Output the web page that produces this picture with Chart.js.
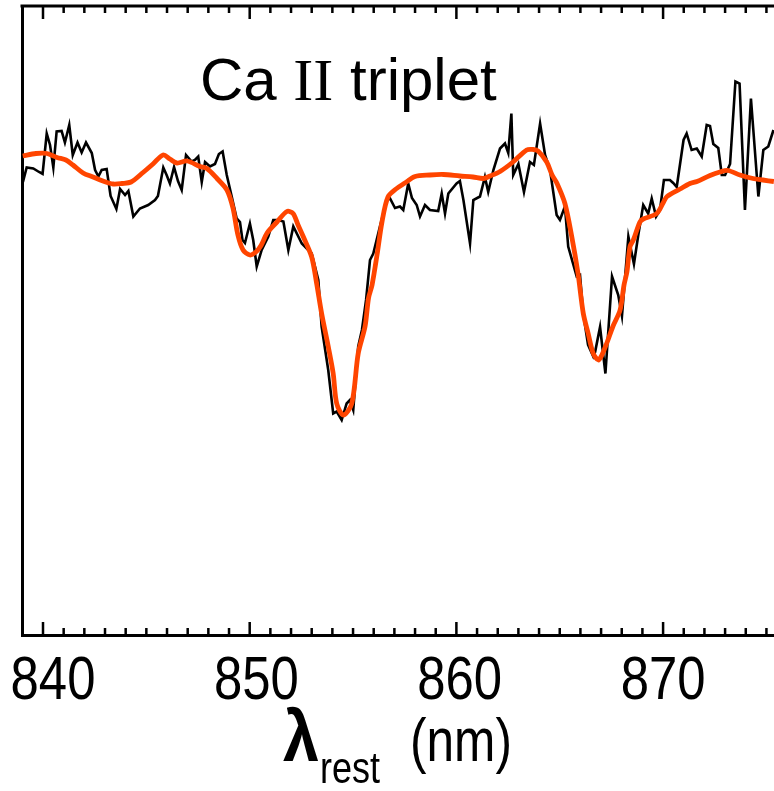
<!DOCTYPE html>
<html>
<head>
<meta charset="utf-8">
<script src="https://cdn.jsdelivr.net/npm/chart.js@4"></script>
<style>
  html, body { margin: 0; padding: 0; background: #fff; }
  #wrap { width: 774px; height: 791px; }
</style>
</head>
<body>
<div id="wrap"><canvas id="myChart" width="774" height="791"></canvas></div>
<script>
/* Ca II triplet: observed spectrum (black) and model (red) */

// observed spectrum, rest wavelength (nm) and normalised flux
const obsWave = [
  839.03, 839.21, 839.53, 839.81, 839.98, 840.18, 840.34, 840.50, 840.66, 840.90,
  841.06, 841.27, 841.44, 841.67, 841.87, 842.08, 842.36, 842.52, 842.68, 842.84,
  843.08, 843.27, 843.55, 843.73, 843.97, 844.13, 844.37, 844.69, 845.09, 845.42,
  845.56, 845.82, 845.98, 846.14, 846.34, 846.53, 846.71, 846.92, 847.19, 847.35,
  847.51, 847.68, 847.84, 848.08, 848.32, 848.51, 848.69, 848.89, 849.13, 849.37,
  849.53, 849.65, 849.77, 850.01, 850.17, 850.34, 850.58, 850.90, 851.14, 851.38,
  851.63, 851.87, 852.11, 852.52, 853.00, 853.32, 853.48, 853.80, 854.04, 854.21,
  854.45, 854.69, 854.85, 855.01, 855.25, 855.43, 855.63, 855.82, 855.98, 856.30,
  856.63, 856.79, 857.03, 857.27, 857.43, 857.67, 857.85, 858.08, 858.24, 858.48,
  858.72, 859.12, 859.29, 859.45, 859.61, 860.01, 860.17, 860.34, 860.66, 860.82,
  861.14, 861.38, 861.54, 861.79, 862.11, 862.35, 862.51, 862.66, 862.75, 863.00,
  863.27, 863.56, 863.75, 864.05, 864.29, 864.53, 864.85, 865.01, 865.25, 865.41,
  865.82, 865.98, 866.14, 866.37, 866.62, 866.71, 866.95, 867.21, 867.53, 867.83,
  868.01, 868.32, 868.59, 868.80, 869.04, 869.28, 869.45, 869.66, 869.85, 870.04,
  870.33, 870.49, 870.66, 870.99, 871.14, 871.38, 871.63, 871.87, 872.11, 872.27,
  872.43, 872.67, 872.84, 873.00, 873.24, 873.50, 873.70, 873.96, 874.25, 874.61,
  874.85, 875.09, 875.34
];
const obsFlux = [
  0.906, 0.935, 0.933, 0.926, 0.922, 1.003, 0.980, 0.935, 1.007, 1.008,
  0.985, 1.020, 0.960, 0.985, 0.965, 0.985, 0.964, 0.930, 0.917, 0.930,
  0.932, 0.878, 0.852, 0.892, 0.880, 0.888, 0.837, 0.853, 0.860, 0.870,
  0.878, 0.935, 0.920, 0.903, 0.936, 0.908, 0.890, 0.960, 0.947, 0.950,
  0.957, 0.906, 0.946, 0.937, 0.942, 0.962, 0.967, 0.920, 0.877, 0.833,
  0.826, 0.790, 0.784, 0.823, 0.790, 0.737, 0.770, 0.797, 0.830, 0.830,
  0.827, 0.770, 0.817, 0.783, 0.763, 0.710, 0.617, 0.530, 0.443, 0.447,
  0.430, 0.463, 0.470, 0.450, 0.577, 0.610, 0.670, 0.750, 0.763, 0.817,
  0.870, 0.873, 0.854, 0.857, 0.850, 0.903, 0.874, 0.860, 0.837, 0.860,
  0.850, 0.848, 0.883, 0.843, 0.883, 0.903, 0.908, 0.870, 0.783, 0.870,
  0.877, 0.916, 0.886, 0.930, 0.973, 0.983, 0.964, 1.043, 0.920, 0.942,
  0.886, 0.946, 0.940, 1.023, 0.960, 0.930, 0.840, 0.830, 0.857, 0.777,
  0.717, 0.720, 0.642, 0.580, 0.557, 0.566, 0.616, 0.523, 0.717, 0.680,
  0.638, 0.797, 0.742, 0.800, 0.860, 0.843, 0.873, 0.837, 0.850, 0.910,
  0.910, 0.904, 0.896, 0.990, 1.003, 0.970, 0.973, 0.957, 1.020, 1.018,
  0.982, 0.974, 0.920, 0.920, 0.942, 1.107, 1.103, 0.850, 1.073, 0.877,
  0.970, 0.977, 1.010
];

// model fit
const modelWave = [
  839.02, 839.66, 840.19, 840.68, 841.11, 841.45, 841.94, 842.42, 842.90, 843.39,
  843.82, 844.26, 844.84, 845.32, 845.81, 846.14, 846.48, 846.97, 847.60, 847.93,
  848.42, 848.90, 849.19, 849.43, 849.68, 850.01, 850.30, 850.55, 850.84, 851.32,
  851.80, 852.10, 852.34, 852.60, 853.00, 853.24, 853.48, 853.80, 854.04, 854.21,
  854.53, 854.94, 855.25, 855.58, 855.75, 855.92, 856.16, 856.40, 856.69, 857.11,
  857.51, 858.00, 858.72, 859.37, 860.17, 860.80, 861.31, 861.63, 862.11, 862.74,
  863.40, 863.71, 863.95, 864.37, 864.63, 864.87, 865.25, 865.58, 865.88, 866.14,
  866.37, 866.62, 866.87, 867.04, 867.27, 867.58, 867.92, 868.11, 868.25, 868.40,
  868.56, 868.88, 869.04, 869.69, 870.00, 870.19, 870.82, 871.30, 871.64, 872.27,
  872.75, 873.14, 873.72, 874.35, 874.83, 875.36
];
const modelFlux = [
  0.958, 0.963, 0.963, 0.955, 0.950, 0.940, 0.924, 0.916, 0.908, 0.902,
  0.903, 0.906, 0.925, 0.942, 0.960, 0.952, 0.944, 0.948, 0.937, 0.933,
  0.913, 0.890, 0.854, 0.800, 0.770, 0.760, 0.766, 0.779, 0.804, 0.826,
  0.847, 0.843, 0.820, 0.796, 0.756, 0.703, 0.643, 0.577, 0.523, 0.463,
  0.440, 0.463, 0.563, 0.617, 0.674, 0.700, 0.760, 0.826, 0.876, 0.893,
  0.904, 0.917, 0.920, 0.921, 0.918, 0.916, 0.913, 0.918, 0.927, 0.946,
  0.970, 0.971, 0.968, 0.946, 0.920, 0.903, 0.863, 0.797, 0.724, 0.643,
  0.604, 0.563, 0.550, 0.560, 0.583, 0.618, 0.650, 0.700, 0.726, 0.777,
  0.790, 0.826, 0.832, 0.843, 0.864, 0.877, 0.892, 0.903, 0.907, 0.919,
  0.926, 0.929, 0.920, 0.913, 0.910, 0.907
];

const xMin = 838.984;
const xMax = 875.366;
const xTicks = [840, 850, 860, 870];

const sans = '"Liberation Sans", Arial, sans-serif';
const squeeze = 0.82; // the figure uses a narrow face

function toPoints(xs, ys) {
  return xs.map(function (x, i) { return { x: x, y: ys[i] }; });
}

// narrow text: draw Liberation Sans squeezed horizontally
function narrowText(ctx, text, x, y, size, align, weight, sq) {
  const k = sq || squeeze;
  ctx.save();
  ctx.font = (weight || 'normal') + ' ' + size + 'px ' + sans;
  ctx.textAlign = align;
  ctx.translate(x, y);
  ctx.scale(k, 1);
  ctx.fillText(text, 0, 0);
  const w = ctx.measureText(text).width * k;
  ctx.restore();
  return w;
}

/* frame top line + inward ticks, tick labels, title and axis label */
const framePlugin = {
  id: 'frame',
  afterDraw: function (chart) {
    const ctx = chart.ctx;
    const area = chart.chartArea;
    const xs = chart.scales.x;

    ctx.save();
    ctx.strokeStyle = '#000';
    ctx.fillStyle = '#000';
    ctx.lineWidth = 3;
    ctx.beginPath();
    ctx.moveTo(area.left - 1.5, area.top);
    ctx.lineTo(area.right + 2, area.top);
    ctx.stroke();

    ctx.lineWidth = 2.5;
    for (let v = Math.ceil(xMin); v <= Math.floor(xMax); v++) {
      const px = xs.getPixelForValue(v);
      const len = (v % 10 === 0) ? 13 : 7;
      ctx.beginPath();
      ctx.moveTo(px, area.bottom);
      ctx.lineTo(px, area.bottom - len);
      ctx.moveTo(px, area.top);
      ctx.lineTo(px, area.top + len);
      ctx.stroke();
    }

    // tick labels from the scale's own ticks (set a little right of the
    // tick at the low end, as in the figure)
    ctx.textBaseline = 'alphabetic';
    xs.ticks.forEach(function (t) {
      const nudge = (870 - t.value) / 3;
      narrowText(ctx, String(t.value), xs.getPixelForValue(t.value) + nudge, 699, 62, 'center');
    });

    // panel title
    ctx.textAlign = 'left';
    let tx = 200;
    const ty = 100;
    ctx.font = '60px ' + sans;
    ctx.fillText('Ca ', tx, ty);
    tx += ctx.measureText('Ca ').width;
    ctx.font = '60px "Liberation Serif", "Times New Roman", serif';
    ctx.fillText('II', tx, ty);
    tx += ctx.measureText('II').width;
    ctx.font = '60px ' + sans;
    ctx.fillText(' triplet', tx, ty);

    // axis label
    let ax = 283;
    const ay = 761;
    ax += narrowText(ctx, 'λ', ax, ay, 72, 'left', 'bold', 0.9);
    narrowText(ctx, 'rest', ax + 1, ay + 22, 45, 'left', 'normal', 0.8);
    narrowText(ctx, '(nm)', 410, ay, 62, 'left', 'normal', 0.8);
    ctx.restore();
  }
};

const ctx = document.getElementById('myChart').getContext('2d');

// eslint-disable-next-line no-undef
const chart = new Chart(ctx, {
  type: 'line',
  data: {
    datasets: [{
      label: 'model',
      data: toPoints(modelWave, modelFlux),
      borderColor: '#ff4500',
      borderWidth: 4.8,
      pointRadius: 0,
      tension: 0.3,
      order: 0
    },
    {
      label: 'observed',
      data: toPoints(obsWave, obsFlux),
      borderColor: '#000',
      borderWidth: 2.6,
      pointRadius: 0,
      tension: 0,
      order: 1
    }]
  },
  options: {
    responsive: false,
    animation: false,
    layout: { padding: { top: 6, right: 0, left: 0, bottom: 0 } },
    plugins: {
      legend: { display: false },
      tooltip: { enabled: false }
    },
    scales: {
      x: {
        type: 'linear',
        min: xMin,
        max: xMax,
        afterFit: function (scale) {
          scale.height = 156;
          scale.paddingLeft = 0;
          scale.paddingRight = 0;
        },
        afterBuildTicks: function (scale) {
          scale.ticks = xTicks.map(function (v) { return { value: v }; });
        },
        ticks: { display: false },
        grid: { display: false, drawTicks: false, tickLength: 0 },
        border: { display: true, color: '#000', width: 3 }
      },
      y: {
        min: 0,
        max: 1.258,
        afterFit: function (scale) {
          scale.width = 22;
          scale.paddingTop = 0;
          scale.paddingBottom = 0;
        },
        ticks: { display: false },
        grid: { display: false, drawTicks: false },
        border: { display: true, color: '#000', width: 3 }
      }
    }
  },
  plugins: [framePlugin]
});
</script>
</body>
</html>
